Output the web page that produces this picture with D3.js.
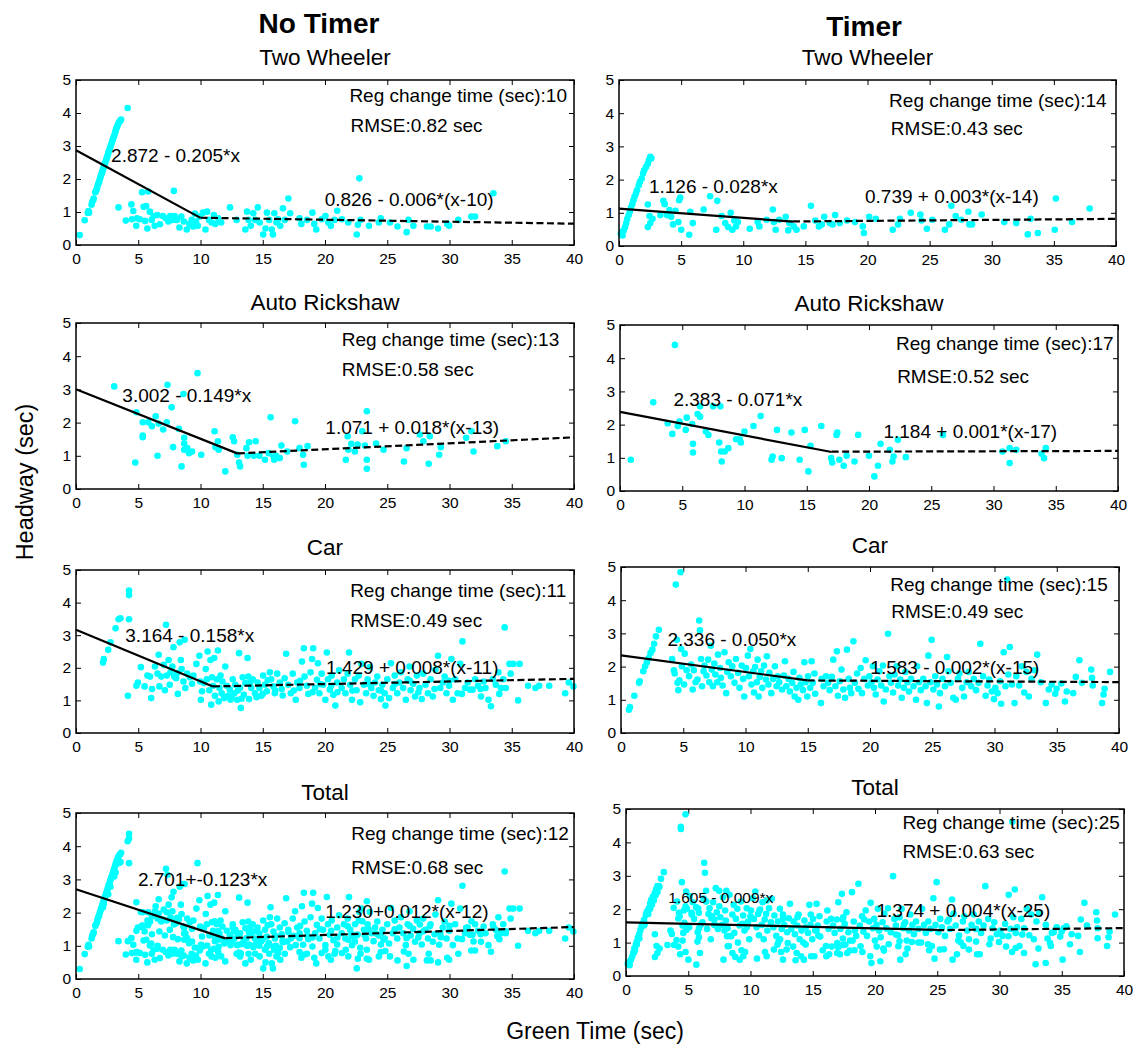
<!DOCTYPE html>
<html>
<head>
<meta charset="utf-8">
<script src="https://cdn.jsdelivr.net/npm/d3@7"></script>
<style>
  body { margin: 0; background: #fff; }
  svg { display: block; font-family: Arial, "Liberation Sans", sans-serif; }
</style>
</head>
<body>
<div id="chart"></div>
<script>
// ---- data (green time sec, headway sec) ----
const columnTitles = ["No Timer", "Timer"];
const panelTitles = ["Two Wheeler", "Auto Rickshaw", "Car", "Total"];
const xTicks = [0, 5, 10, 15, 20, 25, 30, 35, 40];
const yTicks = [0, 1, 2, 3, 4, 5];

const changeTimesNoTimer = [10, 13, 11, 12];
const changeTimesTimer = [14, 17, 15, 25];
const rmseNoTimer = ["0.82", "0.58", "0.49", "0.68"];
const rmseTimer = ["0.43", "0.52", "0.49", "0.63"];
const eqBeforeNoTimer = ["2.872 - 0.205*x", "3.002 - 0.149*x", "3.164 - 0.158*x", "2.701+-0.123*x"];
const eqAfterNoTimer = ["0.826 - 0.006*(x-10)", "1.071 + 0.018*(x-13)", "1.429 + 0.008*(x-11)", "1.230+0.012*(x-12)"];
const eqBeforeTimer = ["1.126 - 0.028*x", "2.383 - 0.071*x", "2.336 - 0.050*x", "1.605 - 0.009*x"];
const eqAfterTimer = ["0.739 + 0.003*(x-14)", "1.184 + 0.001*(x-17)", "1.583 - 0.002*(x-15)", "1.374 + 0.004*(x-25)"];

// fitted lines: [start, change (solid end), change (dashed start), end]
const twNoTimerFit = [[0, 2.872], [10, 0.822], [10, 0.826], [40, 0.646]];
const autoNoTimerFit = [[0, 3.002], [13, 1.065], [13, 1.071], [40, 1.557]];
const carNoTimerFit = [[0, 3.164], [11, 1.426], [11, 1.429], [40, 1.661]];
const totalNoTimerFit = [[0, 2.701], [12, 1.225], [12, 1.230], [40, 1.566]];
const twTimerFit = [[0, 1.126], [14, 0.734], [14, 0.739], [40, 0.817]];
const autoTimerFit = [[0, 2.383], [17, 1.176], [17, 1.184], [40, 1.207]];
const carTimerFit = [[0, 2.336], [15, 1.586], [15, 1.583], [40, 1.533]];
const totalTimerFit = [[0, 1.605], [25, 1.380], [25, 1.374], [40, 1.434]];

const twNoTimer = [
  [0.3,0.3],[0.7,0.75],[0.95,0.97],[1.0,1.03],[1.05,0.98],[1.25,1.22],[1.3,1.3],[1.38,1.36],[1.42,1.41],
  [1.55,1.6],[1.6,1.64],[1.68,1.7],[1.72,1.78],[1.78,1.85],[1.85,1.9],[1.9,1.98],[1.95,2.04],[2.0,2.1],
  [2.05,2.16],[2.1,2.2],[2.15,2.28],[2.2,2.33],[2.25,2.38],[2.3,2.45],[2.35,2.5],[2.42,2.58],[2.48,2.64],
  [2.53,2.7],[2.58,2.76],[2.63,2.83],[2.7,2.9],[2.75,2.96],[2.8,3.02],[2.86,3.08],[2.92,3.15],[2.98,3.22],
  [3.04,3.28],[3.1,3.35],[3.15,3.42],[3.2,3.48],[3.26,3.55],[3.32,3.6],[3.38,3.66],[3.45,3.72],[3.55,3.76],
  [3.62,3.8],[4.15,4.15],
  [3.41,1.14],[4.0,0.74],[4.45,1.23],[4.6,1.03],[4.5,0.78],[4.84,0.58],[4.9,0.81],[5.13,0.78],[5.3,1.6],
  [5.43,1.16],[5.55,0.73],[5.64,1.18],[5.73,0.5],[5.79,1.62],[5.93,1.01],[6.08,0.76],[6.23,0.88],[6.32,0.58],
  [6.53,0.91],[6.74,0.63],[6.97,0.88],[7.2,0.81],[7.42,0.71],[7.57,0.88],[7.72,0.76],[7.86,1.64],[7.92,0.88],
  [8.1,0.76],[8.31,0.53],[8.46,0.86],[8.66,0.71],[8.9,0.47],[9.11,0.64],[9.29,0.76],[9.41,0.56],[9.55,0.95],
  [9.64,0.71],[9.79,0.58],[9.94,0.86],[10.2,0.98],[10.4,0.47],[10.53,1.01],[10.68,0.76],[10.89,0.68],[11.07,0.91],
  [11.19,0.64],[11.42,0.81],[11.66,0.68],[12.37,1.14],[12.9,0.76],[13.6,0.47],[13.74,1.01],[13.86,0.76],
  [14.04,0.58],[14.24,0.96],[14.39,0.76],[14.6,1.14],[14.75,0.68],[15.04,0.32],[15.22,0.5],[15.34,0.98],
  [15.52,0.76],[15.73,0.47],[15.82,0.32],[15.93,0.96],[16.1,0.68],[16.23,0.78],[16.41,0.58],[16.62,1.11],
  [16.77,0.76],[17.06,1.41],[17.2,0.96],[17.95,0.81],[18.1,0.64],[18.55,0.76],[18.99,0.98],[19.14,0.64],
  [19.3,0.47],[19.73,0.78],[20.03,0.88],[20.27,0.68],[20.47,0.58],[20.77,0.76],[20.98,1.04],[21.36,0.78],
  [21.87,0.68],[22.55,0.32],[22.64,0.61],[22.76,2.02],[22.85,0.76],[23.53,0.58],[24.33,0.68],[24.48,0.81],
  [25.22,0.68],[25.82,0.56],[26.56,0.39],[26.71,0.76],[27.1,0.58],[28.19,0.56],[28.49,0.56],[29.08,0.5],
  [29.82,0.64],[29.97,0.58],[30.71,0.76],[31.75,0.86],[32.05,0.86],[33.53,1.57]
];

const autoNoTimer = [
  [3.07,3.09],[4.76,0.8],[4.85,2.31],[5.36,2.01],[5.36,1.61],[5.36,1.56],[5.8,2.01],[6.1,1.89],[6.4,2.19],
  [6.55,1.0],[6.64,1.97],[7.0,1.79],[7.35,3.14],[7.29,2.01],[7.68,2.46],[7.8,1.26],[8.27,1.81],[8.48,0.68],
  [8.63,2.86],[8.69,1.54],[8.69,1.37],[8.69,1.18],[8.93,1.23],[9.08,1.08],[9.32,1.13],[9.76,3.49],[10.06,1.03],
  [11.13,1.74],[11.2,1.26],[11.4,1.44],[11.46,1.18],[11.99,0.53],[12.59,1.56],[12.7,1.44],[12.95,1.03],
  [13.1,0.8],[13.18,0.68],[13.78,1.0],[13.69,1.23],[13.9,1.41],[14.43,1.44],[14.29,1.0],[14.73,1.0],
  [15.18,0.88],[15.48,1.08],[15.63,2.16],[15.86,0.98],[15.92,0.88],[16.07,1.0],[16.37,0.93],[16.5,1.31],
  [16.96,1.13],[17.6,2.04],[17.95,1.23],[18.24,1.03],[18.3,0.73],[18.6,1.29],[21.67,0.88],[21.82,1.59],
  [21.88,1.18],[22.11,1.36],[22.4,1.13],[22.62,1.34],[23.0,1.74],[23.2,1.31],[23.36,2.34],[23.36,0.88],
  [23.36,0.61],[24.1,1.37],[24.7,1.18],[26.34,0.83],[26.55,1.23],[27.62,1.64],[27.9,1.44],[28.33,0.76],
  [28.42,1.59],[29.17,1.03],[29.3,1.26],[31.34,1.54],[31.76,1.74],[31.93,1.13],[33.84,1.29],[34.52,1.44]
];

const carNoTimer = [
  [2.17,2.16],[2.23,2.27],[2.59,2.55],[2.77,2.78],[3.18,3.21],[3.42,3.49],[3.57,3.52],[4.26,4.37],[4.26,4.23],
  [4.26,3.49],[4.17,1.14],[4.85,1.45],[4.97,1.55],[5.21,2.02],[5.51,1.43],[5.74,1.76],[5.95,1.73],[6.04,1.07],
  [6.1,1.35],[6.34,2.04],[6.55,1.82],[6.64,2.4],[6.7,1.43],[6.85,1.73],[7.05,2.09],[7.14,1.31],[7.23,3.32],
  [7.29,1.76],[7.44,2.24],[7.53,1.48],[7.59,1.86],[7.74,2.04],[7.83,2.63],[7.89,1.73],[8.04,1.68],[8.13,1.84],
  [8.18,1.2],[8.33,2.78],[8.42,2.24],[8.48,1.96],[8.63,1.58],[8.72,2.86],[8.78,1.38],[8.93,1.82],[9.14,1.71],
  [9.32,1.51],[9.43,1.76],[9.67,2.12],[9.91,2.37],[9.97,1.58],[10.03,1.02],[10.12,1.28],[10.27,1.53],
  [10.42,1.96],[10.51,1.65],[10.57,2.5],[10.71,1.31],[10.8,2.24],[10.86,0.87],[10.92,1.71],[11.01,1.45],
  [11.1,2.3],[11.16,1.14],[11.31,1.65],[11.4,2.53],[11.46,0.97],[11.52,1.38],[11.61,1.76],[11.7,1.22],
  [11.76,1.58],[11.9,1.07],[11.99,2.04],[12.11,1.45],[12.2,1.14],[12.35,1.33],[12.41,1.02],[12.59,1.65],
  [12.71,1.22],[12.8,1.48],[12.95,1.02],[13.1,2.45],[13.18,1.38],[13.24,0.77],[13.39,1.71],[13.48,1.17],
  [13.6,1.53],[13.78,2.3],[13.84,1.73],[13.9,1.04],[14.08,1.38],[14.2,1.65],[14.38,1.22],[14.58,1.55],
  [14.73,1.38],[14.88,1.14],[15.03,1.76],[15.18,1.48],[15.33,1.28],[15.57,1.86],[15.68,1.65],[15.86,1.43],
  [15.98,1.22],[16.16,1.82],[16.37,1.55],[16.52,1.35],[16.76,1.68],[16.88,2.43],[17.05,1.48],[17.26,1.22],
  [17.41,1.82],[17.65,1.02],[17.77,1.55],[17.95,1.38],[18.15,2.19],[18.3,2.6],[18.36,1.73],[18.54,1.45],
  [18.66,1.2],[18.84,1.86],[18.96,2.27],[19.05,2.6],[19.2,1.38],[19.35,1.63],[19.43,2.14],[19.55,1.22],
  [19.73,1.82],[19.85,1.48],[20.03,1.02],[20.15,2.47],[20.24,1.65],[20.39,1.33],[20.54,1.76],[20.68,1.17],
  [20.83,0.84],[20.98,1.55],[21.13,1.92],[21.34,1.38],[21.52,1.65],[21.64,1.22],[21.82,1.82],[21.93,2.47],
  [22.02,1.48],[22.17,1.02],[22.41,1.65],[22.53,1.31],[22.71,1.76],[22.83,0.94],[22.92,2.12],[23.13,1.48],
  [23.3,1.22],[23.42,1.65],[23.6,2.02],[23.72,1.38],[23.9,1.14],[24.02,1.55],[24.2,1.73],[24.32,1.31],
  [24.49,1.04],[24.61,1.48],[24.79,1.22],[24.85,0.84],[25.0,1.65],[25.15,1.07],[25.3,2.14],[25.45,1.38],
  [25.6,1.76],[25.8,1.22],[25.98,1.55],[26.1,1.86],[26.28,1.38],[26.49,1.02],[26.64,1.65],[26.79,2.04],
  [26.88,1.31],[27.08,1.51],[27.23,1.12],[27.38,1.76],[27.59,1.38],[27.77,1.04],[27.89,1.82],[28.07,1.48],
  [28.27,1.22],[28.48,1.65],[28.66,1.12],[28.87,1.94],[29.08,2.37],[29.26,1.38],[29.46,1.55],[29.61,1.73],
  [29.76,1.22],[29.97,1.45],[30.15,2.27],[30.27,1.02],[30.45,1.65],[30.65,1.22],[30.86,2.12],[31.04,2.81],
  [31.25,1.38],[31.46,1.55],[31.64,1.33],[31.85,1.33],[32.05,1.65],[32.29,1.45],[32.53,1.12],[32.74,1.58],
  [32.89,1.38],[33.13,1.02],[33.33,0.82],[33.48,1.65],[33.72,1.48],[33.93,1.86],[34.14,1.38],[34.32,1.65],
  [34.43,3.24],[34.52,1.38],[34.82,2.12],[34.91,1.82],[35.12,2.12],[35.51,1.0],[35.63,2.12],[36.31,1.45],
  [36.9,1.38],[37.2,1.45],[38.01,1.45],[39.29,1.22],[39.58,1.55],[39.95,1.43],
  [12.5,1.12],[13.0,1.3],[13.3,1.05],[14.0,1.55],[14.5,1.1],[15.0,1.2],[15.4,1.62],[16.0,1.3],[16.6,1.15],
  [17.5,1.3],[18.0,1.6],[19.0,1.25],[19.6,1.5],[20.5,1.45],[21.0,1.25],[22.2,1.3],[23.5,1.5],[24.5,1.3],
  [25.6,1.5],[26.8,1.6],[27.5,1.25],[28.8,1.35],[30.0,1.6],[31.0,1.2],[32.5,1.35],[34.0,1.2]
];

const twTimer = [
  [0.14,0.37],[0.23,0.42],[0.29,0.32],[0.38,0.47],[0.49,0.57],[0.58,0.69],[0.67,0.82],[0.78,0.93],[0.87,1.03],
  [0.96,1.16],[1.07,1.26],[1.16,1.38],[1.25,1.48],[1.36,1.58],[1.45,1.68],[1.59,1.83],[1.68,1.93],[1.83,2.03],
  [1.94,2.18],[2.03,2.28],[2.17,2.38],[2.32,2.48],[2.41,2.59],[2.52,2.69],[2.61,2.64],
  [2.32,1.25],[2.32,0.57],[2.46,0.9],[2.52,0.69],[2.7,0.82],[3.33,0.93],[3.57,1.36],[3.68,1.26],[3.86,0.93],
  [4.06,1.08],[4.2,0.88],[4.35,0.65],[4.55,1.06],[4.78,0.72],[4.84,1.38],[4.93,1.46],[5.01,0.49],[5.65,0.34],
  [5.74,1.03],[5.94,0.69],[6.81,1.1],[7.33,1.5],[7.83,0.49],[7.91,1.36],[8.26,0.9],[8.55,0.69],[8.78,0.57],
  [8.99,1.0],[9.13,0.49],[9.28,0.77],[9.42,0.59],[9.57,0.72],[10.52,0.52],[11.16,0.72],[11.3,0.59],[11.88,0.79],
  [12.38,1.1],[12.46,0.72],[12.61,0.49],[12.9,0.79],[13.42,0.88],[13.62,0.47],[13.71,0.69],[14.06,0.59],
  [14.29,0.49],[14.87,0.59],[15.45,1.21],[15.8,0.77],[16.09,0.59],[16.32,0.65],[16.52,0.88],[16.96,0.69],
  [17.19,0.65],[17.39,0.93],[17.77,0.69],[18.35,0.77],[18.99,0.72],[19.62,0.59],[19.71,0.39],[20.14,0.88],
  [20.67,0.82],[22.03,0.49],[22.46,0.65],[22.61,0.82],[23.48,1.0],[24.26,0.95],[24.35,0.77],[24.78,0.52],
  [25.22,0.79],[26.23,0.49],[26.58,0.65],[26.75,1.21],[27.1,0.9],[27.54,0.79],[28.12,1.03],[28.2,0.65],
  [28.41,0.65],[29.19,0.95],[31.01,0.72],[31.97,0.69],[32.9,0.35],[33.13,0.82],[33.71,0.39],[35.07,0.49],
  [35.16,1.43],[36.46,0.72],[37.88,1.13]
];

const autoTimer = [
  [0.87,0.94],[2.67,2.67],[3.83,2.04],[4.2,1.72],[4.41,4.4],[4.64,1.96],[4.78,2.09],[5.28,1.84],[5.36,2.21],
  [5.86,1.42],[5.8,2.02],[6.23,2.32],[6.43,2.24],[6.43,2.55],[5.86,1.16],[6.9,1.79],[7.1,1.69],[7.48,2.55],
  [7.97,1.46],[8.06,2.55],[8.12,1.19],[8.17,0.89],[8.41,1.19],[8.7,1.29],[9.33,1.56],[9.62,1.56],[9.71,1.46],
  [10.0,1.79],[10.72,1.96],[11.3,2.26],[12.17,0.94],[12.26,1.04],[12.61,1.84],[12.99,0.99],[13.77,1.76],
  [14.43,0.94],[14.84,1.84],[15.13,0.59],[15.3,1.36],[16.17,1.96],[16.96,0.99],[17.04,0.86],[17.39,1.69],
  [17.45,1.76],[17.62,0.94],[17.97,0.76],[18.2,1.06],[18.84,0.89],[19.13,1.69],[20.0,1.06],[20.43,0.44],
  [20.72,0.76],[20.93,1.42],[21.68,1.24],[21.88,0.89],[21.97,1.04],[22.32,1.54],[22.96,1.02],[25.94,1.69],
  [30.72,1.19],[31.3,1.29],[31.3,0.84],[31.83,1.24],[33.86,1.12],[34.06,0.99],[34.2,1.29]
];

const carTimer = [
  [0.64,0.7],[0.72,0.78],[1.07,1.12],[1.45,1.51],[1.5,1.56],[1.79,1.86],[1.94,2.01],[2.08,2.13],[2.23,2.26],
  [2.37,2.41],[2.52,2.51],[2.66,2.69],[2.81,2.91],[3.04,3.11],
  [4.11,2.23],[4.25,1.89],[4.31,1.79],[4.4,4.47],[4.49,2.81],[4.54,1.51],[4.6,1.29],[4.69,1.59],[4.78,4.84],
  [4.83,2.53],[4.89,2.01],[5.07,1.46],[5.12,2.39],[5.27,1.89],[5.47,1.71],[5.64,2.06],[5.76,1.31],[5.85,1.89],
  [5.99,1.53],[6.14,1.61],[6.28,3.39],[6.34,3.09],[6.43,2.23],[6.51,1.41],[6.63,1.86],[6.71,2.03],[6.86,1.73],
  [7.0,2.21],[7.09,1.53],[7.21,2.63],[7.29,1.91],[7.38,1.41],[7.5,2.09],[7.58,1.76],[7.73,1.53],[7.79,2.36],
  [7.96,1.96],[8.02,1.66],[8.16,1.43],[8.31,2.43],[8.45,1.2],[8.54,1.84],[8.65,2.13],[8.83,1.71],[8.94,2.01],
  [9.12,1.51],[9.23,2.23],[9.41,1.81],[9.52,1.36],[9.7,2.03],[9.81,1.63],[9.9,1.1],[10.04,1.96],[10.19,2.33],
  [10.27,1.71],[10.39,2.53],[10.48,1.46],[10.62,1.86],[10.68,1.22],[10.77,1.99],[10.91,1.53],[10.97,2.21],
  [11.06,1.1],[11.14,1.69],[11.26,1.86],[11.35,1.36],[11.49,2.03],[11.64,1.61],[11.72,2.31],[11.84,1.46],
  [11.92,1.81],[12.07,1.2],[12.21,1.63],[12.36,2.01],[12.5,1.41],[12.59,1.71],[12.71,1.53],[12.94,1.31],
  [13.08,1.73],[13.17,2.16],[13.28,1.41],[13.46,1.63],[13.57,1.25],[13.75,1.51],[13.86,1.84],[13.95,1.1],
  [14.1,1.36],[14.24,1.0],[14.33,1.66],[14.44,1.46],[14.62,1.29],[14.73,2.13],[14.82,1.53],[14.96,1.1],
  [15.02,1.71],[15.2,1.36],[15.31,2.16],[15.4,1.51],[15.54,1.79],[15.6,1.18],[16.06,0.9],[16.12,1.63],
  [16.27,1.41],[16.47,1.71],[16.64,1.51],[16.76,1.29],[16.93,1.69],[17.05,2.21],[17.22,1.41],[17.34,2.46],
  [17.42,1.12],[17.57,1.56],[17.71,1.91],[17.86,1.31],[18.0,1.06],[18.15,2.51],[18.29,1.63],[18.38,1.36],
  [18.49,1.2],[18.67,2.76],[18.78,1.51],[18.96,1.79],[19.07,1.33],[19.25,1.96],[19.36,1.2],[19.54,1.63],
  [19.65,2.19],[19.83,1.43],[19.94,1.71],[20.12,1.53],[20.23,2.01],[20.32,1.36],[20.46,1.16],[20.61,1.61],
  [20.75,1.86],[20.9,1.43],[21.04,2.03],[21.1,0.95],[21.27,1.31],[21.45,2.99],[21.56,1.71],[21.68,1.51],
  [21.85,1.22],[21.97,1.76],[22.14,2.01],[22.26,1.43],[22.43,1.61],[22.55,1.06],[22.72,1.36],[22.84,1.84],
  [23.01,1.53],[23.13,1.25],[23.3,1.63],[23.5,1.41],[23.7,1.0],[23.79,2.01],[23.94,1.53],[24.08,1.29],
  [24.28,1.63],[24.46,1.41],[24.57,0.9],[24.69,2.33],[24.86,1.53],[24.95,2.81],[25.09,1.31],[25.24,1.71],
  [25.38,1.46],[25.53,0.8],[25.62,1.2],[25.82,1.63],[26.02,1.41],[26.19,2.29],[26.31,1.86],[26.48,1.51],
  [26.69,1.06],[26.89,1.0],[27.06,1.63],[27.18,1.79],[27.41,1.36],[27.55,1.1],[27.76,1.53],[27.93,1.84],
  [28.13,1.41],[28.34,1.63],[28.52,1.29],[28.72,1.51],[28.86,2.69],[29.09,1.71],[29.29,1.12],[29.44,1.43],
  [29.58,1.61],[29.78,1.25],[29.96,1.02],[30.07,1.36],[30.25,1.2],[30.45,1.56],[30.53,0.88],[30.74,2.43],
  [30.88,1.41],[31.03,4.62],[31.11,1.76],[31.23,2.59],[31.4,1.46],[31.61,0.9],[31.75,1.71],[31.98,1.43],
  [32.19,2.01],[32.39,1.22],[32.56,1.84],[32.76,1.1],[32.97,1.63],[33.2,1.89],[33.43,2.36],[33.72,1.53],
  [34.12,0.9],[34.36,1.31],[34.59,1.46],[34.88,1.18],[34.99,1.33],[35.37,1.49],[35.66,0.95],[35.8,1.25],
  [36.32,1.2],[36.53,1.69],[36.82,2.19],[37.02,1.51],[37.77,1.91],[37.83,1.66],[37.89,1.43],[38.64,0.9],
  [38.76,1.16],[38.84,1.33],[39.28,1.84]
];

// "Total" panels pool all vehicle classes of the same column
const totalNoTimer = twNoTimer.concat(autoNoTimer, carNoTimer);
const totalTimer = twTimer.concat(autoTimer, carTimer);

// ---- layout ----
const W = 1135, H = 1046;
const leftBoxes = [
  { x0: 76, x1: 574, y0: 80, y1: 245, titleY: 65 },
  { x0: 76, x1: 574, y0: 323, y1: 489, titleY: 310 },
  { x0: 76, x1: 574, y0: 570, y1: 733, titleY: 555 },
  { x0: 76, x1: 574, y0: 813, y1: 979, titleY: 800 }
];
const rightBoxes = [
  { x0: 619, x1: 1116, y0: 80, y1: 246, titleY: 65 },
  { x0: 620, x1: 1118, y0: 325, y1: 491, titleY: 311 },
  { x0: 621, x1: 1119, y0: 567, y1: 733, titleY: 553 },
  { x0: 626, x1: 1124, y0: 809, y1: 976, titleY: 795 }
];
// annotation anchors in data units: reg, rmse, eq before, eq after
const leftNotes = [
  [[21.96, 4.34], [22.05, 3.43], [2.82, 2.52], [19.97, 1.18]],
  [[21.34, 4.30], [21.34, 3.39], [3.72, 2.61], [20.03, 1.67]],
  [[22.02, 4.18], [22.02, 3.26], [3.96, 2.78], [20.09, 1.82]],
  [[22.11, 4.20], [22.11, 3.17], [4.97, 2.79], [20.03, 1.84]]
];
const rightNotes = [
  [[21.74, 4.18], [21.88, 3.34], [2.41, 1.60], [19.80, 1.30]],
  [[22.17, 4.25], [22.26, 3.25], [4.29, 2.57], [21.16, 1.60]],
  [[21.62, 4.27], [21.71, 3.46], [3.73, 2.63], [20.03, 1.79]],
  [[22.20, 4.40], [22.20, 3.53], [3.39, 2.19], [20.12, 1.77]]
];

const svg = d3.select("#chart").append("svg")
  .attr("width", W)
  .attr("height", H);

function drawPanel(box, points, fit, title, notes, texts, eqSize) {
  const x = d3.scaleLinear().domain([0, 40]).range([box.x0, box.x1]);
  const y = d3.scaleLinear().domain([0, 5]).range([box.y1, box.y0]);
  const g = svg.append("g");

  g.append("text")
    .attr("x", (box.x0 + box.x1) / 2)
    .attr("y", box.titleY)
    .attr("text-anchor", "middle")
    .attr("font-size", 22.5)
    .text(title);

  // ticks inside the box on all four sides
  g.append("g").attr("transform", `translate(0,${box.y1})`)
    .call(d3.axisBottom(x).tickValues(xTicks).tickSize(-5).tickPadding(7.5).tickFormat(d3.format("d")));
  g.append("g").attr("transform", `translate(0,${box.y0})`)
    .call(d3.axisTop(x).tickValues(xTicks).tickSize(-5).tickFormat(""));
  g.append("g").attr("transform", `translate(${box.x0},0)`)
    .call(d3.axisLeft(y).tickValues(yTicks).tickSize(-5).tickPadding(5).tickFormat(d3.format("d")));
  g.append("g").attr("transform", `translate(${box.x1},0)`)
    .call(d3.axisRight(y).tickValues(yTicks).tickSize(-5).tickFormat(""));
  g.selectAll(".domain").remove();
  g.selectAll(".tick line").attr("stroke", "#000").attr("stroke-width", 1);
  g.selectAll(".tick text")
    .attr("font-size", 15.5)
    .attr("font-family", "Arial, 'Liberation Sans', sans-serif")
    .attr("fill", "#000");

  g.append("g").selectAll("circle")
    .data(points)
    .join("circle")
    .attr("cx", d => x(d[0]))
    .attr("cy", d => y(d[1]))
    .attr("r", 3.3)
    .attr("fill", "#00ffff");

  const line = d3.line().x(d => x(d[0])).y(d => y(d[1]));
  g.append("path")
    .datum(fit.slice(0, 2))
    .attr("d", line)
    .attr("fill", "none")
    .attr("stroke", "#000")
    .attr("stroke-width", 2.2);
  g.append("path")
    .datum(fit.slice(2, 4))
    .attr("d", line)
    .attr("fill", "none")
    .attr("stroke", "#000")
    .attr("stroke-width", 2.2)
    .attr("stroke-dasharray", "7,3.5");

  texts.forEach((t, i) => {
    g.append("text")
      .attr("x", x(notes[i][0]))
      .attr("y", y(notes[i][1]))
      .attr("font-size", i === 2 ? eqSize : 19)
      .text(t);
  });

  g.append("rect")
    .attr("x", box.x0)
    .attr("y", box.y0)
    .attr("width", box.x1 - box.x0)
    .attr("height", box.y1 - box.y0)
    .attr("fill", "none")
    .attr("stroke", "#000")
    .attr("stroke-width", 1.5);
}

const leftData = [twNoTimer, autoNoTimer, carNoTimer, totalNoTimer];
const rightData = [twTimer, autoTimer, carTimer, totalTimer];
const leftFits = [twNoTimerFit, autoNoTimerFit, carNoTimerFit, totalNoTimerFit];
const rightFits = [twTimerFit, autoTimerFit, carTimerFit, totalTimerFit];

panelTitles.forEach((title, i) => {
  drawPanel(leftBoxes[i], leftData[i], leftFits[i], title, leftNotes[i], [
    `Reg change time (sec):${changeTimesNoTimer[i]}`,
    `RMSE:${rmseNoTimer[i]} sec`,
    eqBeforeNoTimer[i],
    eqAfterNoTimer[i]
  ], 19);
  drawPanel(rightBoxes[i], rightData[i], rightFits[i], title, rightNotes[i], [
    `Reg change time (sec):${changeTimesTimer[i]}`,
    `RMSE:${rmseTimer[i]} sec`,
    eqBeforeTimer[i],
    eqAfterTimer[i]
  ], i === 3 ? 15.5 : 19);
});

// column headings
svg.append("text")
  .attr("x", 319).attr("y", 33)
  .attr("text-anchor", "middle")
  .attr("font-size", 28).attr("font-weight", "bold")
  .text(columnTitles[0]);
svg.append("text")
  .attr("x", 864).attr("y", 36)
  .attr("text-anchor", "middle")
  .attr("font-size", 28).attr("font-weight", "bold")
  .text(columnTitles[1]);

// shared axis labels
svg.append("text")
  .attr("transform", "translate(33,482) rotate(-90)")
  .attr("text-anchor", "middle")
  .attr("font-size", 23.5)
  .text("Headway (sec)");
svg.append("text")
  .attr("x", 595).attr("y", 1039)
  .attr("text-anchor", "middle")
  .attr("font-size", 23)
  .text("Green Time (sec)");
</script>
</body>
</html>
